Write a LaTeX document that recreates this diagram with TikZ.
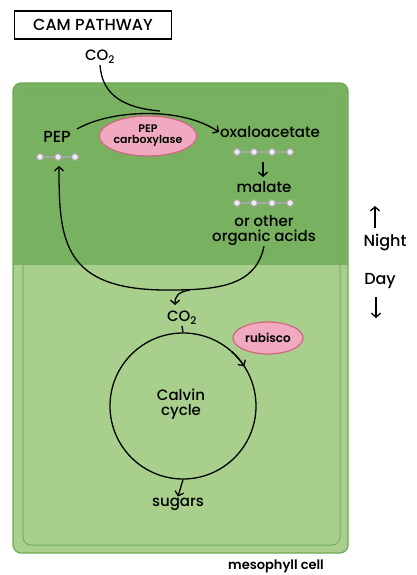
\documentclass[tikz,border=0pt]{standalone}
\usepackage{fontspec}
\setmainfont{Poppins}[UprightFont={* Medium}, BoldFont={* SemiBold}]
\usetikzlibrary{shapes.geometric, arrows.meta}
\definecolor{nightgreen}{HTML}{78B15F}
\definecolor{daygreen}{HTML}{A8D08C}
\definecolor{cellline}{HTML}{6BAA55}
\definecolor{enzpink}{HTML}{F0A9BE}
\definecolor{enzline}{HTML}{CF6683}
\tikzset{
  lbl/.style={font=\fontsize{15}{15}\selectfont, inner sep=1pt},
  enzyme/.style={ellipse, draw=enzline, fill=enzpink, line width=1.2pt,
    font=\fontsize{11}{11}\selectfont\bfseries, align=center, inner sep=0pt},
  flow/.style={line width=1.3pt, -{Straight Barb[length=4pt, width=9pt, line width=1.3pt]}},
  bead/.style={circle, draw=gray!70, fill=gray!15, line width=1.2pt, minimum size=7pt, inner sep=0pt}
}
\begin{document}
\begin{tikzpicture}[x=1pt,y=-1pt]
\useasboundingbox (0,0) rectangle (416,575);

% the cell
\fill[daygreen, rounded corners=8pt] (13,83) rectangle (348,553);
\begin{scope}
\clip[rounded corners=8pt] (13,83) rectangle (348,553);
\fill[nightgreen] (13,83) rectangle (348,265);
\end{scope}
\draw[cellline, line width=1.2pt, rounded corners=8pt] (13,83) rectangle (348,553);
\draw[cellline!85!daygreen, line width=1pt, rounded corners=8pt] (23,91) rectangle (340,545);

% title
\node[lbl, draw, line width=1.3pt, minimum width=157, minimum height=28,
  font=\fontsize{16}{16}\selectfont] (title) at (93,25) {CAM PATHWAY};

% night side
\node[lbl] (co2top) at (100,57) {CO\textsubscript{2}};
\node[lbl, font=\fontsize{16}{16}\selectfont] (pep) at (57,137) {PEP};
\node[enzyme, minimum width=94, minimum height=40] (pepc) at (148,136) {PEP\\carboxylase};
\node[lbl] (oxa) at (270,132) {oxaloacetate};
\node[lbl] (malate) at (264,187) {malate};
\node[lbl, align=center] (acids) at (264,230) {or other\\organic acids};

\draw[gray!70, line width=1.2pt] (40,157) -- (75,157);
\foreach \x in {40,58,75} \node[bead] at (\x,157) {};
\foreach \y in {152,203} {
  \draw[gray!70, line width=1.2pt] (237,\y) -- (290,\y);
  \foreach \x in {237,254,272,290} \node[bead] at (\x,\y) {};
}

\draw[flow] (77,129) .. controls (110,110) and (180,106) .. (oxa.west);
\draw[line width=1.3pt] (co2top.south) .. controls (102,96) and (125,108) .. (160,111);
\draw[flow] (263,162) -- (263,177);

% loop back to PEP and down to CO2
\coordinate (low) at (170,290);
\draw[flow] (acids.south) .. controls (256,285) and (220,290) .. (low)
  .. controls (62,291) and (59,240) .. (59,166);
\node[lbl] (co2mid) at (182,318) {CO\textsubscript{2}};
\draw[flow] (190,290) .. controls (178,292) and (175,296) .. (175,305);

% day side
\node[circle, draw, line width=1.3pt, minimum size=146, inner sep=0pt] (calvin) at (183,406) {};
\node[lbl, align=center] (calvintext) at (181,404) {Calvin\\cycle};
\draw[line width=1.3pt] (co2mid.south) -- (calvin.north);
\draw[flow] (calvin.center) ++(-48:73) arc (-48:-33:73);
\node[enzyme, minimum width=70, minimum height=32, font=\fontsize{12}{12}\selectfont\bfseries] (rubisco) at (268,338) {rubisco};
\node[lbl] (sugars) at (178,504) {sugars};
\draw[flow] (calvin.south) -- (sugars.north);

\node[lbl, font=\fontsize{13}{13}\selectfont\bfseries] (celllabel) at (276,566) {mesophyll cell};

% night and day
\node[lbl, font=\fontsize{16}{16}\selectfont] (night) at (385,243) {Night};
\node[lbl, font=\fontsize{16}{16}\selectfont] (day) at (380,281) {Day};
\draw[flow] (375,228) -- (375,206);
\draw[flow] (376,297) -- (376,318);
\end{tikzpicture}
\end{document}
